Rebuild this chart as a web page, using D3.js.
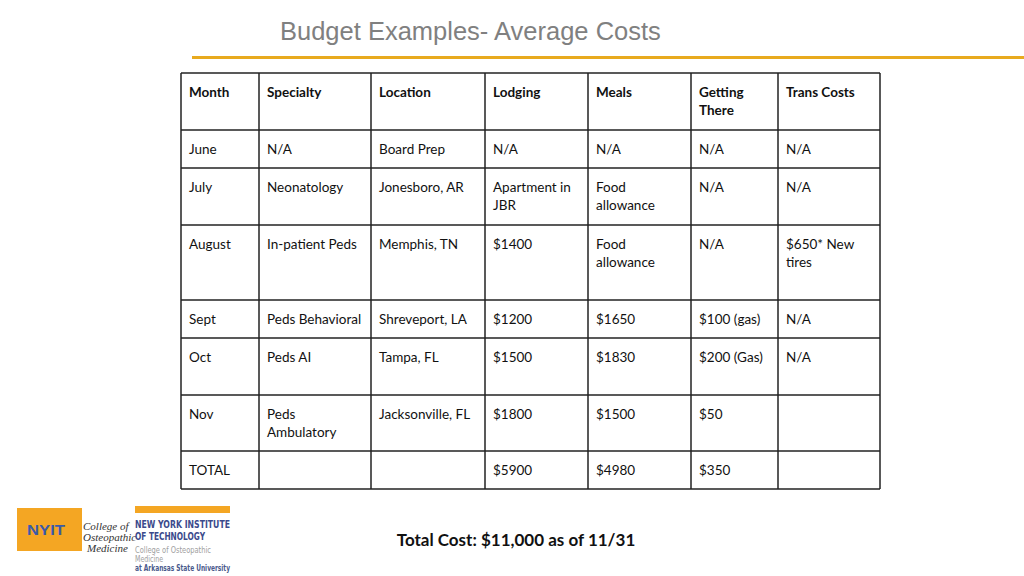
<!DOCTYPE html>
<html><head><meta charset="utf-8">
<script src="https://cdnjs.cloudflare.com/ajax/libs/d3/7.8.5/d3.min.js"></script>
<style>
html,body{margin:0;padding:0;background:#fff;}
svg{display:block;}
</style></head>
<body><svg id="c" width="1024" height="576"></svg>
<script>
// ---- data ----
const headers = ["Month", "Specialty", "Location", "Lodging", "Meals", "Getting\nThere", "Trans Costs"];
const months = ["June", "July", "August", "Sept", "Oct", "Nov", "TOTAL"];
const specialties = ["N/A", "Neonatology", "In-patient Peds", "Peds Behavioral", "Peds AI", "Peds\nAmbulatory", ""];
const locations = ["Board Prep", "Jonesboro, AR", "Memphis, TN", "Shreveport, LA", "Tampa, FL", "Jacksonville, FL", ""];
const lodging = ["N/A", "Apartment in\nJBR", "$1400", "$1200", "$1500", "$1800", "$5900"];
const meals = ["N/A", "Food\nallowance", "Food\nallowance", "$1650", "$1830", "$1500", "$4980"];
const gettingThere = ["N/A", "N/A", "N/A", "$100 (gas)", "$200 (Gas)", "$50", "$350"];
const transCosts = ["N/A", "N/A", "$650* New\ntires", "N/A", "N/A", "", ""];
const title = "Budget Examples- Average Costs";
const totalNote = "Total Cost: $11,000 as of 11/31";

// ---- layout ----
const colWidths = [78, 112, 114, 103, 103, 87, 102];
const rowHeights = [57, 38, 57, 75, 38, 57, 56, 38];
const tableX = 181, tableY = 73;

const svg = d3.select("#c");
const font = "Lato, 'Open Sans', sans-serif";

// title
svg.append("text").attr("x", 280).attr("y", 40)
  .attr("font-family", "'Liberation Sans', Arial, sans-serif").attr("font-size", 25.5)
  .attr("fill", "#808080").text(title);
svg.append("rect").attr("x", 192).attr("y", 56).attr("width", 832).attr("height", 3).attr("fill", "#E8AA1E");

// table
const rows = [headers].concat(months.map((m, i) => [m, specialties[i], locations[i], lodging[i], meals[i], gettingThere[i], transCosts[i]]));
const colEdges = [0]; colWidths.forEach(w => colEdges.push(colEdges[colEdges.length - 1] + w));
const rowEdges = [0]; rowHeights.forEach(h => rowEdges.push(rowEdges[rowEdges.length - 1] + h));
const x = d3.scaleLinear().domain([0, colEdges[colEdges.length - 1]]).range([tableX, tableX + colEdges[colEdges.length - 1]]);
const y = d3.scaleLinear().domain([0, rowEdges[rowEdges.length - 1]]).range([tableY, tableY + rowEdges[rowEdges.length - 1]]);

const g = svg.append("g");
const cells = [];
rows.forEach((r, ri) => r.forEach((t, ci) => cells.push({ri, ci, t})));
g.selectAll("text.cell").data(cells).join("text")
  .attr("class", "cell")
  .attr("x", d => x(colEdges[d.ci]) + 8)
  .attr("y", d => y(rowEdges[d.ri]) + 24)
  .attr("font-family", font).attr("font-size", 13.5)
  .attr("font-weight", d => d.ri === 0 ? "bold" : "normal")
  .attr("fill", "#111")
  .each(function(d) {
    const lines = d.t.split("\n");
    d3.select(this).selectAll("tspan").data(lines).join("tspan")
      .attr("x", x(colEdges[d.ci]) + 8)
      .attr("dy", (l, i) => i === 0 ? 0 : 18)
      .text(l => l);
  });

// grid lines
g.selectAll("line.h").data(rowEdges).join("line")
  .attr("x1", x(0)).attr("x2", x(colEdges[colEdges.length - 1]))
  .attr("y1", d => y(d)).attr("y2", d => y(d))
  .attr("stroke", "#222").attr("stroke-width", 1.5);
g.selectAll("line.v").data(colEdges).join("line")
  .attr("y1", y(0)).attr("y2", y(rowEdges[rowEdges.length - 1]))
  .attr("x1", d => x(d)).attr("x2", d => x(d))
  .attr("stroke", "#222").attr("stroke-width", 1.5);

// total note
svg.append("text").attr("x", 516).attr("y", 546).attr("text-anchor", "middle")
  .attr("font-family", font).attr("font-size", 17).attr("font-weight", "bold")
  .attr("fill", "#111").text(totalNote);

// logos
const lg = svg.append("g");
lg.append("rect").attr("x", 17).attr("y", 508).attr("width", 65).attr("height", 43).attr("fill", "#F4A623");
lg.append("text").attr("x", 27).attr("y", 535)
  .attr("font-family", "'Liberation Sans', Arial, sans-serif").attr("font-weight", "bold")
  .attr("font-size", 14).attr("fill", "#3b5aa8")
  .attr("textLength", 38).attr("lengthAdjust", "spacingAndGlyphs").text("NYIT");
[["College of", 530, 83], ["Osteopathic", 541, 83], ["Medicine", 552, 87]].forEach(([t, yy, xx]) => {
  lg.append("text").attr("x", xx).attr("y", yy)
    .attr("font-family", "'Liberation Serif', 'DejaVu Serif', serif").attr("font-style", "italic")
    .attr("font-size", 11).attr("fill", "#333").text(t);
});
lg.append("rect").attr("x", 135).attr("y", 506).attr("width", 95).attr("height", 7).attr("fill", "#F4A623");
lg.append("text").attr("x", 135).attr("y", 528).attr("font-family", "'DejaVu Sans Condensed', 'Liberation Sans Narrow', sans-serif")
  .attr("font-weight", "bold").attr("font-size", 10.5).attr("fill", "#3b4a8c")
  .attr("textLength", 95).attr("lengthAdjust", "spacingAndGlyphs").text("NEW YORK INSTITUTE");
lg.append("text").attr("x", 135).attr("y", 540).attr("font-family", "'DejaVu Sans Condensed', 'Liberation Sans Narrow', sans-serif")
  .attr("font-weight", "bold").attr("font-size", 10.5).attr("fill", "#3b4a8c")
  .attr("textLength", 70).attr("lengthAdjust", "spacingAndGlyphs").text("OF TECHNOLOGY");
[["College of Osteopathic", 553, "#a0a0a0", "normal", 76], ["Medicine", 562, "#a0a0a0", "normal", 28], ["at Arkansas State University", 571, "#4a5a8c", "bold", 95]].forEach(([t, yy, c, w, len]) => {
  lg.append("text").attr("x", 135).attr("y", yy)
    .attr("font-family", "'DejaVu Sans Condensed', sans-serif").attr("font-size", 8)
    .attr("font-weight", w).attr("fill", c)
    .attr("textLength", len).attr("lengthAdjust", "spacingAndGlyphs").text(t);
});
</script></body></html>
